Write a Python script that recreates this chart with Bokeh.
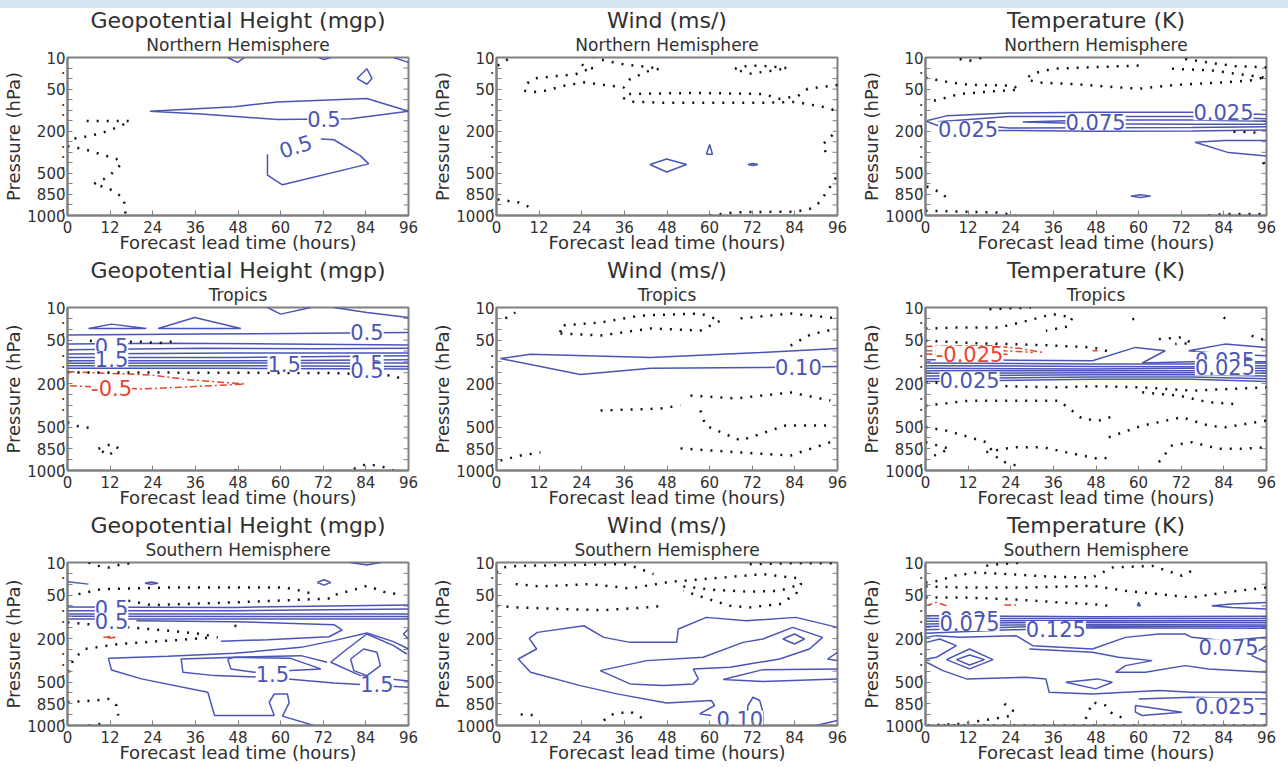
from bokeh.plotting import figure
from bokeh.models import Range1d, FixedTicker, Title, Spacer
from bokeh.layouts import column, row
from bokeh.embed import file_html
from bokeh.resources import INLINE
from bokeh.core.properties import value

# ---------------- axes ----------------
pressure_levels = [10, 20, 30, 50, 70, 100, 150, 200, 250, 300, 400, 500, 700, 850, 925, 1000]
pressure_labels = ["10", ".", ".", "50", ".", ".", ".", "200", ".", ".", ".", "500", ".", "850", ".", "1000"]
lead_hours = [0, 12, 24, 36, 48, 60, 72, 84, 96]

# Contour lines: (lead hours, pressure-level index 0=10hPa ... 15=1000hPa)
# ---- Geopotential height, Northern Hemisphere ----
gh_nh_pos = [
    ([45.1, 47.9, 49.8], [0, 0.46, 0]),
    ([70.8, 72.2, 74.1], [0, 0.2, 0]),
    ([91.8, 96], [0, 0.46]),
    ([81.5, 84.3, 85.7, 84.3, 81.5], [1.99, 1.07, 1.99, 2.54, 1.99]),
    ([23.2, 47.0, 59.1, 84.3, 96, 79.7, 59.1, 37.6, 23.2], [5.11, 4.68, 4.22, 3.89, 5.11, 5.82, 5.88, 5.36, 5.11]),
    ([71.3, 75.0, 82.5, 84.8, 60.5, 56.3, 56.3], [7.74, 7.81, 9.34, 10.1, 12.09, 11.17, 9.18]),
]
gh_nh_neg = []
gh_nh_zero = [
    ([5.4, 17.6, 14.8, 9.6, 3.1, 0.3], [6.03, 6.03, 6.52, 7.19, 7.65, 7.74]),
    ([0, 4.9, 13.8, 15.2, 11.5, 7.3, 11.5, 15.7, 16.3, 16.3], [8.42, 8.72, 9.64, 10.1, 11.33, 12.03, 12.4, 13.31, 14.23, 15]),
]
gh_nh_text = [(72.2, 5.82, "0.5", 0.0, "pos"), (64.2, 8.42, "0.5", 0.3, "pos")]

# ---- Wind, Northern Hemisphere ----
wd_nh_pos = [
    ([43.2, 47.9, 53.5, 47.9, 43.2], [10.16, 9.64, 10.16, 10.87, 10.16]),
    ([59.1, 60.0, 60.8, 59.1], [9.18, 8.26, 9.18, 9.18]),
    ([70.8, 72.2, 73.6, 72.2, 70.8], [10.16, 10.06, 10.16, 10.26, 10.16]),
]
wd_nh_neg = []
wd_nh_zero = [
    ([0.3, 4.0], [0.77, 0]),
    ([8.7, 10.6, 16.2, 22.2, 25.0, 27.4, 25.0, 22.7], [2.45, 1.99, 1.78, 1.6, 1.22, 1.07, 0.83, 0.46]),
    ([7.8, 10.6, 13.8, 19.0, 24.6, 30.2, 35.8, 37.6, 43.2, 46.0, 43.2, 38.6, 35.3, 32.0, 28.8, 27.4],
     [3.15, 3.28, 3.15, 2.69, 2.36, 2.6, 2.85, 2.05, 1.22, 1.07, 0.92, 0.77, 0.61, 0.4, 0.15, 0]),
    ([96, 87.6, 84.8, 79.7, 75.0, 56.3, 36.7, 35.6, 37.6, 47.0, 75.0, 84.3, 92.7, 96],
     [2.6, 2.97, 3.67, 3.92, 3.46, 3.37, 3.46, 3.83, 4.19, 4.29, 4.29, 4.22, 4.74, 5.11]),
    ([67.1, 70.8, 76.9, 82.0, 76.9, 71.3, 67.1], [1.07, 0.77, 0.83, 1.0, 1.29, 1.53, 1.13]),
    ([94.6, 91.8, 92.7, 93.7], [7.35, 8.26, 9.03, 9.34]),
    ([0.3, 6.3, 10.6], [13.47, 13.77, 14.39]),
    ([60.0, 67.5, 84.3, 88.1, 90.9, 93.7, 96], [15, 14.69, 14.63, 14.39, 13.77, 12.4, 11.17]),
]
wd_nh_text = []

# ---- Temperature, Northern Hemisphere ----
t_nh_pos = [
    ([0, 5.9, 23.6, 47.0, 74.1, 96], [6.03, 5.54, 5.27, 5.2, 5.2, 5.42]),
    ([0, 4.0, 20.8, 47.0, 75.0, 96], [6.03, 6.52, 6.92, 7.01, 6.98, 6.89]),
    ([96, 75, 23.6, 3.5, 23.6, 75, 96], [5.82, 5.6, 5.6, 6.1, 6.7, 6.64, 6.58]),
    ([27.4, 47.0, 75.0, 96, 96, 75.0, 47.0, 27.4], [6.12, 5.94, 5.94, 6.06, 6.34, 6.34, 6.3, 6.12]),
    ([96, 84.3, 75.9, 85.3, 96], [7.87, 7.87, 8.05, 9.03, 9.34]),
    ([57.8, 60.5, 63.4, 60.5, 57.8], [13.16, 13.02, 13.16, 13.3, 13.16]),
]
t_nh_neg = []
t_nh_zero = [
    ([9.6, 12.4, 16.2], [0.15, 0.3, 0]),
    ([0, 6.8, 12.4, 24.6, 26.4, 19.0, 9.6, 4.0, 0], [1.93, 2.36, 2.6, 2.66, 3.06, 3.21, 3.46, 3.98, 4.29]),
    ([60.0, 47.0, 35.8, 30.2, 28.3, 31.1, 42.3, 60.0, 70.3, 84.3, 92.7, 95.5],
     [0.77, 0.92, 1.07, 1.53, 1.99, 2.36, 2.54, 2.97, 2.6, 2.36, 2.14, 1.84]),
    ([69.4, 80.6, 87.1, 96], [1.07, 1.22, 1.53, 1.93]),
    ([73.1, 80.6, 87.1, 96], [0.15, 0.52, 0.83, 0.92]),
    ([86.7, 93.7], [7.04, 7.13]),
    ([0.3, 4.5, 5.9], [12.24, 12.86, 13.31]),
    ([0, 9.6, 20.8, 25.5], [14.54, 14.63, 14.72, 15]),
    ([79.7, 84.3, 96], [15, 14.85, 14.85]),
    ([95.1, 96], [9.95, 10.41]),
]
t_nh_text = [(12.0, 6.83, "0.025", 0.0, "pos"), (47.9, 6.12, "0.075", 0.0, "pos"), (83.9, 5.2, "0.025", 0.0, "pos")]

# ---- Geopotential height, Tropics ----
gh_tr_pos = [
    ([56.3, 60.0, 68.5], [0, 0.61, 0]),
    ([75.0, 84.3, 96], [0, 0.46, 0.92]),
    ([5.9, 12.4, 22.2, 5.9], [1.93, 1.53, 1.93, 1.93]),
    ([25.5, 35.8, 48.8, 25.5], [1.93, 0.92, 1.93, 1.93]),
    ([0, 37.6, 96], [2.54, 2.45, 2.3]),
    ([0, 28, 60, 96], [3.37, 3.28, 3.35, 3.46]),
    ([0, 38, 70, 96], [3.89, 3.76, 3.8, 3.76]),
    ([0, 47, 96], [4.29, 4.19, 4.19]),
    ([0, 47, 96], [4.59, 4.59, 4.44]),
    ([0, 47, 96], [4.9, 4.9, 4.81]),
    ([0, 47, 96], [5.14, 5.11, 5.11]),
    ([0, 47, 96], [5.36, 5.36, 5.42]),
    ([0, 47, 96], [5.6, 5.6, 5.66]),
]
gh_tr_neg = [
    ([0, 9.6, 23.6, 33.9, 41.4, 49.8, 41.4, 20.8, 0], [5.91, 6.03, 6.21, 6.64, 6.83, 7.04, 7.19, 7.5, 7.19]),
]
gh_tr_zero = [
    ([0, 75.0, 91.8, 95.1], [5.97, 6.03, 6.27, 6.73]),
    ([6.3, 9.6, 20.8, 25.5, 31.6], [3.06, 3.15, 3.15, 3.28, 3.06]),
    ([0, 2.1, 6.8], [10.56, 10.87, 11.11]),
    ([8.7, 12.4, 14.3, 11.5, 8.7], [13.0, 12.55, 12.95, 13.62, 13.0]),
    ([80.6, 84.3, 89.0, 91.8], [14.85, 14.39, 14.69, 15]),
    ([47, 49.8], [15, 14.85]),
]
gh_tr_text = [(84.3, 2.3, "0.5", 0.0, "pos"), (12.4, 3.58, "0.5", 0.0, "pos"), (12.4, 4.74, "1.5", 0.0, "pos"),
              (61.0, 5.2, "1.5", 0.0, "pos"), (84.3, 5.1, "1.5", 0.0, "pos"), (84.3, 5.72, "0.5", 0.0, "pos"),
              (12.4, 7.44, "-0.5", 0.0, "neg")]

# ---- Wind, Tropics ----
wd_tr_pos = [
    ([96, 74.3, 43.4, 9.6, 1.1, 23.6, 43.4, 74.3, 96], [3.77, 4.14, 4.6, 4.3, 4.7, 6.16, 5.6, 5.52, 5.43]),
]
wd_tr_neg = []
wd_tr_zero = [
    ([2.5, 5.3], [1.0, 0.46]),
    ([18.0, 29.3, 43.4, 57.4, 63.1, 57.4, 40.5, 29.3, 18.0, 18.0], [2.39, 2.58, 1.93, 2.12, 1.2, 0.55, 0.74, 1.38, 1.66, 2.39]),
    ([68.7, 82.8, 96], [1.0, 0.55, 1.0]),
    ([82.8, 88.4, 96], [3.5, 2.48, 1.93]),
    ([29.3, 46.2, 51.8], [9.48, 9.3, 9.0]),
    ([54.6, 67.3, 82.8, 94.0], [8.1, 8.37, 7.82, 8.56]),
    ([57.4, 58.8, 68.7, 81.4, 94.0], [9.48, 10.86, 12.24, 10.86, 10.86]),
    ([51.8, 68.7, 82.8, 95.4], [12.97, 13.34, 13.62, 12.24]),
    ([1.1, 6.8, 12.4], [14.08, 13.62, 13.34]),
]
wd_tr_text = [(85.0, 5.52, "0.10", 0.0, "pos")]

# ---- Temperature, Tropics ----
t_tr_pos = [
    ([0, 19.0, 47.0, 59.1, 67.5, 61.0, 75.0, 96], [4.81, 4.84, 4.9, 3.67, 3.98, 5.11, 4.99, 4.99]),
    ([96, 84.3, 74.1, 84.3, 96], [3.67, 3.37, 3.98, 4.29, 4.44]),
    ([0, 47, 75, 96], [5.11, 5.2, 5.2, 5.11]),
    ([0, 47, 75, 96], [5.36, 5.42, 5.45, 5.36]),
    ([0, 47, 75, 96], [5.6, 5.66, 5.6, 5.6]),
    ([0, 47, 75, 96], [5.82, 5.82, 5.82, 5.82]),
    ([0, 47, 75, 96], [6.06, 6.0, 6.0, 6.06]),
    ([0, 47, 75, 96], [6.3, 6.2, 6.2, 6.3]),
    ([0, 47, 75, 96], [6.55, 6.4, 6.4, 6.55]),
    ([0, 47, 75, 96], [6.8, 6.6, 6.6, 6.8]),
]
t_tr_neg = [
    ([0, 19.0, 26.4, 33.0], [3.58, 3.52, 3.76, 4.13]),
    ([0, 19.0, 30.2], [3.98, 3.92, 4.13]),
    ([0, 9.6, 23.6], [4.29, 4.35, 4.29]),
    ([47, 48.4], [3.98, 3.98]),
]
t_tr_zero = [
    ([18.0, 22.7, 29.7], [0.15, 0.09, 0]),
    ([0, 9.6, 20.8, 27.4, 35.8, 41.4, 40.0, 33.9], [1.93, 1.84, 1.84, 1.32, 0.61, 0.92, 1.75, 2.14]),
    ([0, 14.3, 33.0, 47.0, 52.6], [3.06, 3.28, 3.46, 3.67, 4.13]),
    ([65.7, 72.2, 75.0, 70.3], [2.91, 2.75, 3.28, 3.37]),
    ([91.8, 96], [2.6, 3.06]),
    ([58.2, 60], [1.07, 1.0]),
    ([83.9, 84.8], [0.92, 1.07]),
    ([0, 9.6, 23.6, 37.6, 47.0, 61.0, 75.0, 96], [6.89, 7.04, 7.25, 7.35, 7.25, 7.35, 7.65, 7.35]),
    ([0, 12.4, 37.6, 44.2, 48.8, 53.5], [9.03, 8.57, 8.57, 10.25, 10.41, 9.95]),
    ([61.0, 71.3, 79.7, 87.1], [7.81, 8.11, 8.72, 8.88]),
    ([0, 5.9, 12.4, 17.1, 19.0, 20.8, 25.5], [11.02, 11.33, 11.94, 12.4, 13.31, 14.08, 14.54]),
    ([0, 6.8, 0.3], [12.4, 13.0, 13.93]),
    ([17.1, 24.6, 33.0, 39.5, 48.8, 52.6], [13.31, 12.86, 12.86, 13.31, 13.93, 13.77]),
    ([51.6, 61.0, 72.2, 79.7, 84.3, 96], [11.94, 10.87, 10.1, 10.87, 11.02, 10.41]),
    ([65.7, 69.4, 75.0, 82.5, 89.0, 96], [14.23, 12.7, 12.4, 13.0, 13.0, 12.86]),
]
t_tr_text = [(12.4, 4.29, "-0.025", 0.0, "neg"), (12.4, 6.64, "0.025", 0.0, "pos"),
             (84.3, 4.81, "0.025", 0.0, "pos"), (84.3, 5.51, "0.025", 0.0, "pos")]

# ---- Geopotential height, Southern Hemisphere ----
gh_sh_pos = [
    ([79.7, 84.3, 88.1], [0, 0.24, 0]),
    ([0, 5.9], [1.78, 1.99]),
    ([21.8, 23.6, 25.5, 23.6, 21.8], [1.9, 1.8, 1.9, 2.0, 1.9]),
    ([70.3, 72.2, 74.1, 72.2, 70.3], [1.84, 1.59, 1.84, 2.08, 1.84]),
    ([0, 47, 96], [4.1, 4.13, 3.92]),
    ([0, 47, 96], [4.44, 4.44, 4.29]),
    ([0, 47, 96], [4.74, 4.74, 4.74]),
    ([0, 47, 96], [4.95, 4.98, 4.98]),
    ([0, 47, 96], [5.2, 5.2, 5.2]),
    ([19.4, 47.0, 75.0, 77.3, 73.6, 56.3, 43.2], [5.36, 5.45, 5.72, 6.21, 6.83, 7.1, 7.25]),
    ([11.5, 12.4, 20.8, 39.5, 41.4, 58.2, 56.8, 58.2, 61.9, 62.4, 60.5, 69.4],
     [8.82, 9.89, 10.71, 11.94, 14.08, 14.08, 12.86, 12.09, 12.09, 12.92, 14.14, 15]),
    ([11.5, 28.3, 47.0, 65.7, 75.0, 84.3, 91.8, 96], [8.82, 8.63, 8.36, 7.81, 7.19, 6.49, 7.28, 7.96]),
    ([73.1, 65.7, 47.0, 32.0, 32.5, 41.4, 56.3, 75.0, 96], [9.18, 8.57, 8.72, 8.88, 10.1, 10.41, 10.56, 11.08, 11.48]),
    ([45.1, 46.0, 52.6, 62.8, 71.3, 62.8, 47.0, 45.1], [8.88, 9.79, 10.1, 9.95, 9.79, 8.82, 8.72, 8.88]),
    ([79.7, 83.4, 87.1, 88.1, 84.3, 80.6, 79.7], [8.88, 7.96, 8.26, 9.49, 10.41, 9.95, 8.88]),
    ([95.5, 91.8, 84.3, 78.7, 74.1, 82.5, 96], [8.42, 7.65, 6.58, 7.96, 9.18, 10.41, 10.9]),
    ([96, 94.6, 96], [6.12, 6.58, 7.04]),
]
gh_sh_neg = [
    ([10.1, 12.0, 13.8, 12.0, 10.1], [6.89, 6.8, 6.89, 6.95, 6.89]),
]
gh_sh_zero = [
    ([5.9, 8.7, 11.5, 14.3, 19.0], [0, 0.31, 0.46, 0.24, 0]),
    ([3.1, 9.6, 28.3, 61.0, 65.7, 69.4], [2.91, 2.45, 2.3, 2.3, 2.6, 2.91]),
    ([17.1, 23.6, 47.0, 75.0, 75.9, 79.7, 84.3, 89.0, 92.7], [3.52, 3.92, 3.67, 3.3, 2.91, 2.6, 2.14, 2.69, 2.91]),
    ([0, 4.9, 17.1, 28.3, 37.6, 42.3], [5.51, 5.66, 5.97, 6.27, 6.58, 6.89]),
    ([0.3, 1.7, 4.9, 14.3, 28.3, 41.4], [10.1, 8.88, 7.96, 7.5, 7.19, 6.89]),
    ([47.0, 49.8], [5.82, 5.97]),
    ([0, 7.8, 11.5, 13.8, 14.3], [12.86, 12.7, 12.55, 13.16, 14.08]),
    ([5.9, 9.6], [15, 14.85]),
]
gh_sh_text = [(12.4, 4.22, "0.5", 0.0, "pos"), (12.4, 5.36, "0.5", 0.0, "pos"),
              (57.7, 10.25, "1.5", 0.0, "pos"), (87.1, 11.17, "1.5", 0.0, "pos")]

# ---- Wind, Southern Hemisphere ----
wd_sh_pos = [
    ([96, 84.3, 70.3, 59.1, 51.2, 50.7, 37.6, 30.2, 24.6, 11.5, 9.2, 11.3, 6.1, 9.6, 23.6, 33.9, 47.9, 60.5, 61.4, 57.2, 60.5],
     [5.97, 5.05, 5.36, 5.05, 6.12, 7.35, 7.35, 6.89, 5.82, 6.43, 6.98, 7.96, 8.88, 10.1, 11.33, 12.09, 12.92, 12.7, 13.16, 13.93, 14.08]),
    ([29.2, 42.3, 58.2, 69.4, 75.0, 83.4, 91.8, 88.1, 79.7, 65.7, 55.4, 56.8, 55.4, 47.0, 37.6, 29.2],
     [9.95, 9.03, 8.72, 7.35, 7.04, 5.97, 6.89, 7.96, 8.88, 9.64, 9.79, 10.71, 11.17, 11.33, 11.17, 9.95]),
    ([96, 75, 63.8, 75, 96], [9.8, 9.86, 10.77, 10.95, 10.71]),
    ([80.6, 83.9, 86.7, 83.9, 80.6], [7.04, 6.58, 7.04, 7.5, 7.04]),
    ([96, 93.2, 96], [8.26, 8.88, 9.03]),
    ([89.9, 96], [15, 14.54]),
    ([70.3, 70.8, 72.2, 74.1, 75.0, 75.0], [15, 13.16, 12.4, 12.7, 13.77, 15]),
]
wd_sh_neg = []
wd_sh_zero = [
    ([0, 1.2, 5.9, 19.0, 35.8, 39.5, 44.2], [0.92, 0.46, 0.31, 0.24, 0.15, 0.46, 1.07]),
    ([71.3, 84.3, 96], [0.15, 0.06, 0.06]),
    ([5.4, 12.4, 26.4, 37.6, 48.8, 63.8, 75.0, 85.3, 85.7, 84.3, 79.7, 71.3, 65.7, 58.2, 52.6],
     [1.99, 2.2, 1.99, 2.39, 1.78, 1.38, 1.07, 1.47, 1.99, 2.91, 3.83, 4.13, 3.98, 3.21, 2.6]),
    ([52.6, 61.0, 71.3, 79.7, 84.3], [2.2, 2.51, 2.69, 2.6, 2.14]),
    ([0, 5.9, 19.0, 30.2, 42.3, 47.0], [3.98, 4.13, 4.29, 4.38, 4.13, 3.98]),
    ([6.8, 12.4], [13.99, 14.08]),
    ([30.2, 32.0, 37.6, 41.4], [14.54, 14.02, 13.71, 14.39]),
]
wd_sh_text = [(68.5, 14.39, "0.10", 0.0, "pos")]

# ---- Temperature, Southern Hemisphere ----
t_sh_pos = [
    ([0, 24, 48, 96], [4.9, 4.95, 4.99, 4.95]),
    ([0, 24, 48, 96], [5.15, 5.15, 5.15, 5.15]),
    ([0, 24, 48, 96], [5.4, 5.35, 5.35, 5.35]),
    ([0, 24, 48, 96], [5.65, 5.55, 5.5, 5.55]),
    ([0, 24, 48, 96], [5.9, 5.75, 5.7, 5.75]),
    ([0, 24, 48, 96], [6.2, 5.95, 5.85, 5.9]),
    ([0, 24, 48, 96], [6.5, 6.2, 6.0, 6.05]),
    ([0, 3.1, 9.6, 25.5, 30.2, 47.0, 56.3, 65.7, 73.1, 75.0, 84.3, 96],
     [6.89, 6.73, 6.89, 6.73, 7.65, 7.96, 6.89, 6.58, 6.58, 6.89, 7.19, 6.89]),
    ([0.3, 4.0, 8.7, 3.1, 0.3], [7.35, 7.04, 7.65, 8.72, 8.88]),
    ([8.7, 12.4, 16.6, 12.4, 8.7], [8.94, 8.51, 8.94, 9.43, 8.94]),
    ([5.9, 12.4, 19.0, 12.4, 5.9], [8.94, 7.96, 8.94, 9.79, 8.94]),
    ([0.3, 4.9, 11.5, 28.3, 33.9, 34.8, 47.0, 65.7, 75.0, 96], [9.18, 9.95, 10.71, 10.56, 10.71, 11.94, 12.09, 11.78, 11.94, 11.94]),
    ([29.2, 47.0, 54.4, 63.8, 56.3, 53.5, 61.9, 73.1, 79.7, 96], [7.96, 8.26, 8.72, 9.03, 9.49, 10.1, 10.1, 9.49, 9.79, 10.1]),
    ([39.5, 48.4, 52.6, 47.9, 39.5], [11.02, 10.71, 11.02, 11.63, 11.02]),
    ([59.1, 72.2, 61.0, 59.1, 59.1], [13.16, 13.77, 14.08, 13.77, 13.16]),
    ([60.0, 75.0, 96], [12.55, 12.4, 12.55]),
    ([96, 86.2, 80.6, 86.2, 96], [3.67, 3.83, 3.98, 4.13, 4.29]),
    ([96, 91.8, 96], [7.65, 8.57, 9.18]),
    ([59.6, 60.0, 60.5, 59.6], [3.98, 3.67, 3.98, 3.98]),
    ([94.1, 96], [13.93, 13.93]),
]
t_sh_neg = [
    ([0, 3.1, 5.9], [3.98, 3.67, 3.98]),
    ([22.2, 25.5], [3.92, 3.92]),
]
t_sh_zero = [
    ([17.1, 20.8, 28.3], [0.31, 0.15, 0]),
    ([0, 4.0, 7.8, 14.3, 23.6, 35.8, 47.0, 52.6, 63.8, 72.2, 75.9], [1.84, 1.68, 1.22, 0.92, 1.07, 1.32, 1.38, 0.46, 0.31, 1.22, 0.61]),
    ([0, 9.6, 28.3, 47.0, 56.3, 65.7, 75.0, 84.3, 96], [2.2, 2.3, 2.3, 2.14, 2.6, 2.91, 3.21, 2.75, 2.3]),
    ([0, 9.6, 23.6, 37.6, 47.0, 51.6], [3.21, 3.21, 3.37, 3.67, 3.83, 3.98]),
    ([22.2, 24.6, 24.6, 19.0, 9.6, 0], [13.0, 13.62, 14.08, 14.39, 14.85, 15]),
    ([45.1, 47.0, 50.7, 52.6, 56.3], [14.39, 12.86, 13.16, 13.93, 14.39]),
    ([5, 96], [14.97, 14.97]),
]
t_sh_text = [(12.4, 5.2, "0.025", 0.0, "pos"), (12.4, 5.57, "0.075", 0.0, "pos"), (36.7, 6.12, "0.125", 0.0, "pos"),
             (85.3, 7.81, "0.075", 0.0, "pos"), (84.3, 13.16, "0.025", 0.0, "pos")]

panel_titles = ["Geopotential Height (mgp)", "Wind (ms/)", "Temperature (K)"]
panel_regions = ["Northern Hemisphere", "Tropics", "Southern Hemisphere"]

panel_data = [
    [(gh_nh_pos, gh_nh_neg, gh_nh_zero, gh_nh_text), (wd_nh_pos, wd_nh_neg, wd_nh_zero, wd_nh_text), (t_nh_pos, t_nh_neg, t_nh_zero, t_nh_text)],
    [(gh_tr_pos, gh_tr_neg, gh_tr_zero, gh_tr_text), (wd_tr_pos, wd_tr_neg, wd_tr_zero, wd_tr_text), (t_tr_pos, t_tr_neg, t_tr_zero, t_tr_text)],
    [(gh_sh_pos, gh_sh_neg, gh_sh_zero, gh_sh_text), (wd_sh_pos, wd_sh_neg, wd_sh_zero, wd_sh_text), (t_sh_pos, t_sh_neg, t_sh_zero, t_sh_text)],
]

BLUE = "#4a55b6"
RED = "#e8452c"
DOT = "#111111"
FRAME = "#808080"
TXT = "#303030"
FONT = "DejaVu Sans"
BAND = "#d7e4f2"

LEFT = 66
FRAME_W = 342
FRAME_H = 163


def make_panel(ri, ci):
    pos, neg, zero, texts = panel_data[ri][ci]
    right = 21 if ci < 2 else 16
    top = 44 if ri == 0 else 52
    bottom = 40 if ri < 2 else 41
    p = figure(width=LEFT + FRAME_W + right, height=top + FRAME_H + bottom,
               x_range=Range1d(0, 96), y_range=Range1d(15, 0),
               output_backend="svg", toolbar_location=None, title=None,
               min_border_left=LEFT, min_border_right=right, min_border_top=top, min_border_bottom=bottom,
               background_fill_color="white", border_fill_color="white")
    p.xgrid.visible = False
    p.ygrid.visible = False
    p.outline_line_color = FRAME
    p.outline_line_width = 2

    sub = Title(text=panel_regions[ri], align="center", text_font=FONT, text_font_size="17px",
                text_font_style="normal", text_color=TXT, standoff=5)
    main = Title(text=panel_titles[ci], align="center", text_font=FONT, text_font_size="22px",
                 text_font_style="normal", text_color=TXT, standoff=0)
    try:
        main.standoff = -5
    except Exception:
        main.standoff = 0
    p.add_layout(sub, "above")
    p.add_layout(main, "above")

    xa = p.xaxis[0]
    xa.ticker = FixedTicker(ticks=lead_hours)
    xa.axis_label = "Forecast lead time (hours)"
    ya = p.yaxis[0]
    ya.ticker = FixedTicker(ticks=list(range(len(pressure_levels))))
    ya.major_label_overrides = {i: lab for i, lab in enumerate(pressure_labels)}
    ya.axis_label = "Pressure (hPa)"
    for ax in (xa, ya):
        ax.axis_label_text_font = FONT
        ax.axis_label_text_font_size = "18px"
        ax.axis_label_text_font_style = "normal"
        ax.axis_label_text_color = TXT
        ax.major_label_text_font = FONT
        ax.major_label_text_font_size = "15px"
        ax.major_label_text_color = TXT
        ax.major_tick_in = 5
        ax.major_tick_out = 0
        ax.major_tick_line_color = FRAME
        ax.minor_tick_line_color = None
        ax.axis_line_color = FRAME
        ax.axis_line_width = 2
    xa.major_label_standoff = 5
    try:
        xa.axis_label_standoff = -4
    except Exception:
        xa.axis_label_standoff = 0
    ya.major_label_standoff = 2
    ya.axis_label_standoff = 0

    # inward tick marks on the right-hand frame edge, one per pressure level
    nlev = len(pressure_levels)
    p.segment(x0=[96] * nlev, x1=[94.6] * nlev, y0=list(range(nlev)), y1=list(range(nlev)),
              line_color=FRAME, line_width=1)

    if pos:
        p.multi_line(xs=[l[0] for l in pos], ys=[l[1] for l in pos], line_color=BLUE, line_width=1.5)
    if neg:
        p.multi_line(xs=[l[0] for l in neg], ys=[l[1] for l in neg], line_color=RED, line_width=1.5,
                     line_dash="7 3 2 3")
    if zero:
        p.multi_line(xs=[l[0] for l in zero], ys=[l[1] for l in zero], line_color=DOT, line_width=2.5,
                     line_dash="2 8")
    for kind, col in (("pos", BLUE), ("neg", RED)):
        sel = [t for t in texts if t[4] == kind]
        if sel:
            p.text(x=[t[0] for t in sel], y=[t[1] for t in sel], text=[t[2] for t in sel],
                   angle=[t[3] for t in sel], text_color=col, text_font=value(FONT),
                   text_font_size="21px", text_align="center", text_baseline="middle",
                   background_fill_color="white")
    return p


band = Spacer(width=1288, height=8, styles={"background-color": BAND})
rows = [band]
for ri in range(3):
    rows.append(row(*[make_panel(ri, ci) for ci in range(3)]))
layout = column(*rows)

open("out.html", "w").write(file_html(layout, INLINE))
